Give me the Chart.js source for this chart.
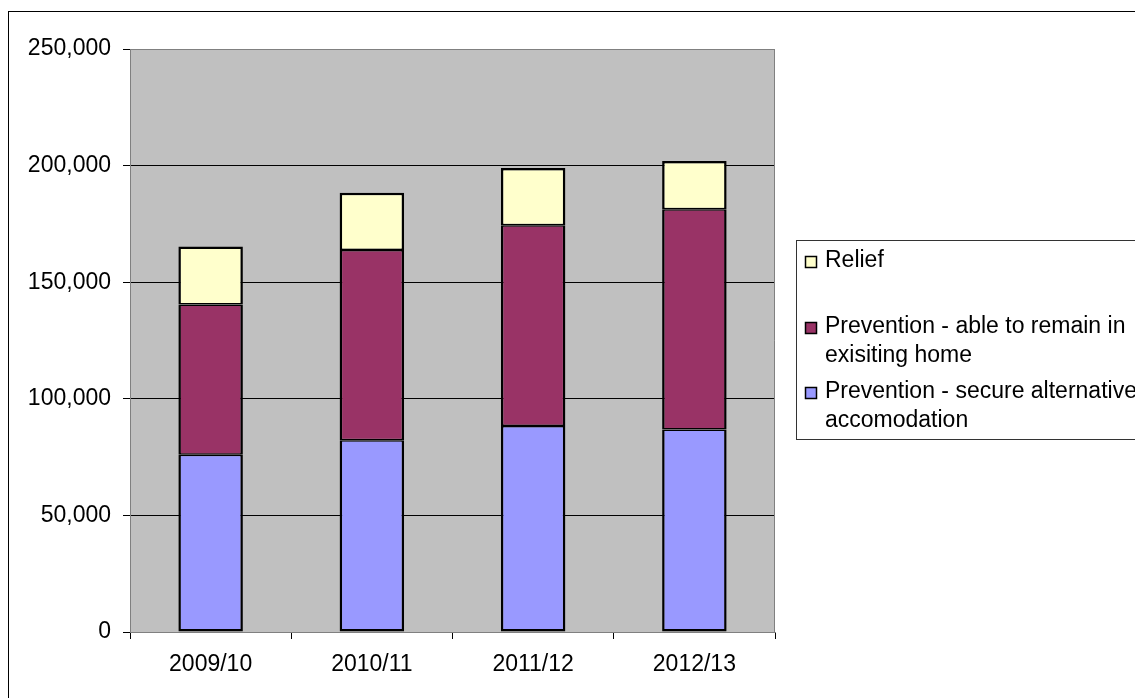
<!DOCTYPE html>
<html>
<head>
<meta charset="utf-8">
<script src="https://cdn.jsdelivr.net/npm/chart.js@4"></script>
<style>
  html, body { margin: 0; padding: 0; background: #fff; }
  #wrap { width: 1135px; height: 698px; position: relative; }
</style>
</head>
<body>
<div id="wrap"><canvas id="myChart" width="1135" height="698"></canvas></div>
<script>
const years = ["2009/10", "2010/11", "2011/12", "2012/13"];
const secureAlt = [76000, 82200, 88300, 86800];
const remainHome = [64400, 81600, 86100, 94500];
const relief = [24900, 24600, 24600, 20700];
const seriesNames = [
  "Prevention - secure alternative accomodation",
  "Prevention - able to remain in exisiting home",
  "Relief"
];
const seriesColors = ["#9999FF", "#993366", "#FFFFCC"];
const yTicks = [0, 50000, 100000, 150000, 200000, 250000];

const FONT = '"Liberation Sans", Arial, sans-serif';
const ctx = document.querySelector("#myChart");

// grey plot background + frame around the whole chart
const plotBox = {
  id: "plotBox",
  beforeDraw(chart) {
    const { ctx, chartArea: a } = chart;
    ctx.save();
    ctx.fillStyle = "#fff";
    ctx.fillRect(0, 0, chart.width, chart.height);
    ctx.strokeStyle = "#000";
    ctx.lineWidth = 1;
    ctx.strokeRect(8.5, 11.5, 1200, 800);
    ctx.fillStyle = "#C0C0C0";
    ctx.fillRect(a.left, a.top, a.right - a.left, a.bottom - a.top);
    ctx.restore();
  },
  afterDraw(chart) {
    const { ctx, chartArea: a } = chart;
    ctx.save();
    ctx.strokeStyle = "#808080";
    ctx.lineWidth = 1;
    ctx.beginPath();
    ctx.moveTo(Math.round(a.right) - 0.5, a.top);
    ctx.lineTo(Math.round(a.right) - 0.5, a.bottom);
    ctx.stroke();
    ctx.restore();
  }
};

// boxed legend on the right, entries listed top to bottom, long names wrapped
const sideLegend = {
  id: "sideLegend",
  afterDraw(chart) {
    const { ctx } = chart;
    const baselines = [267, 333, 398];
    ctx.save();
    ctx.strokeStyle = "#333";
    ctx.lineWidth = 1;
    ctx.strokeRect(796.5, 240.5, 400, 199);
    ctx.font = "23px " + FONT;
    ctx.textBaseline = "alphabetic";
    const items = chart.data.datasets.slice().reverse();
    items.forEach((ds, i) => {
      const y = baselines[i];
      ctx.fillStyle = ds.backgroundColor;
      ctx.fillRect(805, y - 11, 12, 12);
      ctx.strokeStyle = "#000";
      ctx.lineWidth = 1.5;
      ctx.strokeRect(805.5, y - 10.5, 11, 11);
      ctx.fillStyle = "#000";
      const words = ds.label.split(" ");
      const lines = [];
      let line = "";
      words.forEach(w => {
        const test = line ? line + " " + w : w;
        if (ctx.measureText(test).width > 320 && line) {
          lines.push(line);
          line = w;
        } else {
          line = test;
        }
      });
      lines.push(line);
      lines.forEach((t, k) => ctx.fillText(t, 825, y + k * 29));
    });
    ctx.restore();
  }
};

const borders = [
  { top: 1.5, bottom: 2.5, left: 2.5, right: 2.5 },
  { top: 1.5, bottom: 1.5, left: 2.5, right: 2.5 },
  { top: 2.5, bottom: 1.5, left: 2.5, right: 2.5 }
];
const values = [secureAlt, remainHome, relief];

new Chart(ctx, {
  type: "bar",
  data: {
    labels: years,
    datasets: values.map((v, i) => ({
      label: seriesNames[i],
      data: v,
      backgroundColor: seriesColors[i],
      borderColor: "#000",
      borderWidth: borders[i],
      borderSkipped: false,
      categoryPercentage: 1,
      barPercentage: 0.4
    }))
  },
  options: {
    responsive: false,
    animation: false,
    layout: { padding: { left: 8, top: 49, right: 360, bottom: 0 } },
    plugins: {
      legend: { display: false },
      tooltip: { enabled: false }
    },
    scales: {
      x: {
        stacked: true,
        offset: true,
        grid: { offset: true, drawOnChartArea: false, tickLength: 7, tickColor: "#000" },
        border: { color: "#808080" },
        ticks: { color: "#000", font: { family: FONT, size: 23 }, padding: 12, maxRotation: 0 },
        afterFit(s) { s.height = 66; }
      },
      y: {
        stacked: true,
        min: 0,
        max: 250000,
        afterBuildTicks(s) { s.ticks = yTicks.map(v => ({ value: v })); },
        grid: {
          tickLength: 7,
          tickColor: "#000",
          color: c => (c.tick && c.tick.value === 250000 ? "#808080" : "#000")
        },
        border: { color: "#808080" },
        ticks: {
          color: "#000",
          font: { family: FONT, size: 23 },
          padding: 12,
          callback: v => v.toLocaleString("en-US")
        },
        afterFit(s) { s.width = 122; }
      }
    }
  },
  plugins: [plotBox, sideLegend]
});
</script>
</body>
</html>
